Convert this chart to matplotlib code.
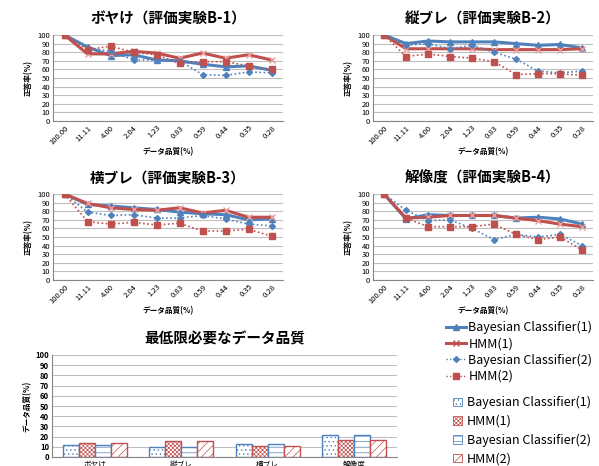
import matplotlib
matplotlib.use("Agg")
import matplotlib.pyplot as plt
import numpy as np
from matplotlib.lines import Line2D
from matplotlib.patches import Patch

plt.rcParams['font.family'] = ['Noto Sans CJK JP', 'DejaVu Sans']
plt.rcParams['hatch.linewidth'] = 0.5

# data
quality = ["100.00", "11.11", "4.00", "2.04", "1.23", "0.83", "0.59", "0.44", "0.35", "0.28"]
series_names = ["Bayesian Classifier(1)", "HMM(1)", "Bayesian Classifier(2)", "HMM(2)"]

b1_bc1 = [100, 86, 76, 77, 71, 70, 66, 63, 64, 59]
b1_hmm1 = [100, 78, 78, 81, 79, 73, 79, 73, 77, 71]
b1_bc2 = [100, 85, 81, 71, 71, 70, 54, 53, 57, 56]
b1_hmm2 = [100, 83, 87, 80, 77, 67, 69, 69, 64, 60]

b2_bc1 = [100, 90, 93, 92, 92, 92, 90, 88, 89, 85]
b2_hmm1 = [100, 84, 84, 84, 84, 83, 83, 83, 83, 84]
b2_bc2 = [100, 88, 90, 84, 88, 80, 72, 58, 56, 58]
b2_hmm2 = [100, 75, 78, 75, 73, 69, 54, 55, 55, 53]

b3_bc1 = [100, 88, 86, 84, 82, 79, 77, 76, 70, 71]
b3_hmm1 = [100, 89, 84, 82, 81, 84, 78, 81, 73, 73]
b3_bc2 = [100, 79, 75, 76, 72, 72, 75, 71, 65, 63]
b3_hmm2 = [100, 68, 65, 67, 64, 66, 57, 57, 59, 51]

b4_bc1 = [100, 71, 76, 75, 75, 75, 72, 73, 71, 65]
b4_hmm1 = [100, 72, 73, 75, 75, 75, 72, 69, 65, 62]
b4_bc2 = [100, 81, 69, 70, 60, 47, 53, 50, 53, 40]
b4_hmm2 = [100, 72, 62, 62, 62, 65, 53, 47, 50, 35]

titles = ["ボヤけ（評価実験B-1）", "縦ブレ（評価実験B-2）", "横ブレ（評価実験B-3）", "解像度（評価実験B-4）"]

bar_categories = ["ボヤけ", "縦ブレ", "横ブレ", "解像度"]
min_bc1 = [12, 10, 13, 22]
min_hmm1 = [14, 16, 11, 17]
min_bc2 = [12, 10, 13, 22]
min_hmm2 = [14, 16, 11, 17]

BLUE = "#4F81BD"
RED = "#C0504D"
GRID = "#BFBFBF"

W, H = 599, 466
fig = plt.figure(figsize=(W / 100, H / 100), dpi=100)


def px_axes(x0, y0, x1, y1):
    # pixel box (top-left origin) -> figure fraction
    return fig.add_axes([x0 / W, 1 - y1 / H, (x1 - x0) / W, (y1 - y0) / H])


def style_axes(ax):
    ax.set_ylim(0, 100)
    ax.set_yticks(range(0, 101, 10))
    ax.yaxis.grid(True, color=GRID, linewidth=0.8)
    ax.set_axisbelow(True)
    for s in ["top", "right"]:
        ax.spines[s].set_visible(False)
    for s in ["left", "bottom"]:
        ax.spines[s].set_color("#868686")
        ax.spines[s].set_linewidth(0.8)
    ax.tick_params(axis="both", length=0, labelsize=5.5, pad=2)


def line_chart(ax, title, bc1, hmm1, bc2, hmm2):
    x = np.arange(len(quality))
    ax.plot(x, bc1, color=BLUE, lw=2.2, marker="^", ms=5)
    ax.plot(x, hmm1, color=RED, lw=2.2, marker="x", ms=5, mew=1.0,
            markeredgecolor="#E8A0A0")
    ax.plot(x, bc2, color=BLUE, lw=1.2, ls=(0, (1, 1.5)), marker="D", ms=3)
    ax.plot(x, hmm2, color=RED, lw=1.2, ls=(0, (1, 1.5)), marker="s", ms=5)
    style_axes(ax)
    ax.set_xlim(-0.5, len(quality) - 0.5)
    ax.set_xticks(x)
    ax.set_xticklabels(quality, rotation=45, ha="right", rotation_mode="anchor")
    ax.set_title(title, fontsize=10.5, fontweight="bold", pad=8)
    ax.set_xlabel("データ品質(%)", fontsize=5.5, fontweight="bold", labelpad=1)
    ax.set_ylabel("正答率(%)", fontsize=5.5, fontweight="bold", labelpad=3)


boxes = [(53, 35, 283, 121), (373, 35, 593, 121),
         (53, 194, 283, 280), (373, 194, 593, 280)]
data = [(b1_bc1, b1_hmm1, b1_bc2, b1_hmm2),
        (b2_bc1, b2_hmm1, b2_bc2, b2_hmm2),
        (b3_bc1, b3_hmm1, b3_bc2, b3_hmm2),
        (b4_bc1, b4_hmm1, b4_bc2, b4_hmm2)]
for box, title, d in zip(boxes, titles, data):
    line_chart(px_axes(*box), title, *d)

# bar chart
axb = px_axes(52, 355, 397, 457)
xb = np.arange(len(bar_categories))
bw = 0.185
bar_specs = [(min_bc1, BLUE, "...."), (min_hmm1, RED, "xxxxxxxx"),
             (min_bc2, BLUE, "---"), (min_hmm2, RED, "////")]
for i, (vals, col, hatch) in enumerate(bar_specs):
    axb.bar(xb + (i - 1.5) * bw, vals, bw, facecolor="white", edgecolor=col,
            hatch=hatch, linewidth=1.0)
style_axes(axb)
axb.set_xlim(-0.5, len(bar_categories) - 0.5)
axb.set_xticks(xb)
axb.set_xticklabels(bar_categories, fontsize=5.5)
axb.tick_params(axis="x", pad=3)
axb.tick_params(axis="y", labelsize=5.5)
for lbl in axb.get_yticklabels():
    lbl.set_fontweight("bold")
axb.set_title("最低限必要なデータ品質", fontsize=10.5, fontweight="bold", pad=8)
axb.set_ylabel("データ品質(%)", fontsize=5.5, fontweight="bold", labelpad=3)

# legends
line_handles = [
    Line2D([], [], color=BLUE, lw=2.2, marker="^", ms=5),
    Line2D([], [], color=RED, lw=2.2, marker="x", ms=5),
    Line2D([], [], color=BLUE, lw=1.0, ls=(0, (1, 1.5)), marker="D", ms=3),
    Line2D([], [], color=RED, lw=1.0, ls=(0, (1, 1.5)), marker="s", ms=4),
]
fig.legend(line_handles, series_names, loc="upper left",
           bbox_to_anchor=(446 / W, 1 - 321 / H), frameon=False,
           fontsize=9, handlelength=1.6, handletextpad=0.2, labelspacing=0.25,
           borderaxespad=0, borderpad=0)

bar_handles = [Patch(facecolor="white", edgecolor=col, hatch=h, lw=0.6)
               for _, col, h in bar_specs]
fig.legend(bar_handles, series_names, loc="upper left",
           bbox_to_anchor=(453 / W, 1 - 396 / H), frameon=False,
           fontsize=9, handlelength=0.7, handleheight=0.7,
           handletextpad=0.4, labelspacing=0.45,
           borderaxespad=0, borderpad=0)

fig.savefig("out.png", dpi=100)
